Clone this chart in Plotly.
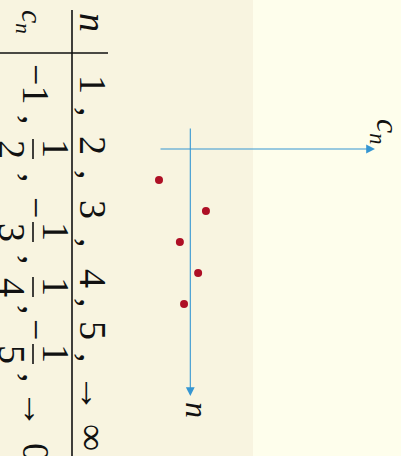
import plotly.graph_objects as go

W, H = 401, 456

# sequence c_n = (-1)^n / n, first five terms
n_values = [1, 2, 3, 4, 5]
c_num = [-1, 1, -1, 1, -1]
c_den = [1, 2, 3, 4, 5]
c_values = [a / b for a, b in zip(c_num, c_den)]
n_limit = "∞"
c_limit = "0"

MINUS = "\u2212"
SERIF = "Liberation Serif"
INK = "#111111"
AXIS_BLUE = "#3596D2"
DOT_RED = "#AE0F25"


def px(x):
    return x / W


def py(y):
    return 1 - y / H


# pixel scale of the chart: c = 0 at x=190.3, n = 0 at y=149
SX, X0 = 31.3, 190.3
SY, Y0 = 31.0, 149.0
x_range = [-X0 / SX, (W - X0) / SX]
y_range = [(H - Y0) / SY, -Y0 / SY]

fig = go.Figure()

fig.add_trace(go.Scatter(
    x=c_values, y=n_values, mode="markers",
    marker=dict(size=8, color=DOT_RED),
    hoverinfo="skip", showlegend=False,
))

shapes = [
    # two-tone slide background
    dict(type="rect", xref="paper", yref="paper", x0=0, x1=px(253), y0=0, y1=1,
         fillcolor="#F8F4E0", line=dict(width=0), layer="below"),
    # table rules
    dict(type="line", xref="paper", yref="paper", x0=px(72), x1=px(72), y0=py(10), y1=py(456),
         line=dict(color=INK, width=1.6)),
    dict(type="line", xref="paper", yref="paper", x0=px(0), x1=px(108), y0=py(53), y1=py(53),
         line=dict(color=INK, width=1.6)),
]

ann = []


def tok(text, xc, yc, size=38, italic=False):
    if italic:
        text = "<i>" + text + "</i>"
    ann.append(dict(x=px(xc), y=py(yc), xref="paper", yref="paper", text=text,
                    textangle=90, showarrow=False, xanchor="center", yanchor="middle",
                    font=dict(family=SERIF, size=size, color=INK)))


# header cells
tok("n", 93, 22, italic=True)
tok("<i>c</i><sub><i>n</i></sub>", 30, 22, size=30)

# row of n
N_X = 93
n_pos = [84, 145, 209, 278, 330]
n_comma = [112, 175, 243, 303, 358]
for v, yc, yk in zip(n_values, n_pos, n_comma):
    tok(str(v), N_X, yc)
    tok(",", N_X, yk)
tok("→", N_X, 393)
tok(n_limit, N_X, 437)

# row of c_n
C_X = 36
c_pos = [84, 149, 232, 287, 354]
c_comma = [120, 178, 260, 310, 378]
for a, b, yc, yk in zip(c_num, c_den, c_pos, c_comma):
    if b == 1:
        tok((MINUS if a < 0 else "") + str(abs(a)), C_X, yc)
    else:
        tok(str(abs(a)), 56, yc)
        tok(str(b), 12, yc)
        shapes.append(dict(type="line", xref="paper", yref="paper",
                           x0=px(33), x1=px(33), y0=py(yc - 10), y1=py(yc + 10),
                           line=dict(color=INK, width=1.6)))
        if a < 0:
            tok(MINUS, C_X, yc - 25)
    tok(",", C_X, yk)
tok("→", C_X, 409)
tok(c_limit, C_X, 452)

# coordinate axes with arrowheads
c_axis = (-1.0, 5.9)
n_axis = (-0.71, 7.97)
ann.append(dict(x=c_axis[1], y=0, ax=c_axis[0], ay=0, xref="x", yref="y", axref="x", ayref="y",
                text="", showarrow=True, arrowhead=2, arrowsize=1.6, arrowwidth=1.1,
                arrowcolor=AXIS_BLUE, standoff=0))
ann.append(dict(x=0, y=n_axis[1], ax=0, ay=n_axis[0], xref="x", yref="y", axref="x", ayref="y",
                text="", showarrow=True, arrowhead=2, arrowsize=1.6, arrowwidth=1.1,
                arrowcolor=AXIS_BLUE, standoff=0))
# axis names
ann.append(dict(x=px(385), y=py(131), xref="paper", yref="paper",
                text="<i>c</i><sub><i>n</i></sub>", textangle=90, showarrow=False,
                xanchor="center", yanchor="middle",
                font=dict(family=SERIF, size=32, color=INK)))
ann.append(dict(x=px(197), y=py(410), xref="paper", yref="paper",
                text="<i>n</i>", textangle=90, showarrow=False,
                xanchor="center", yanchor="middle",
                font=dict(family=SERIF, size=32, color=INK)))

fig.update_layout(
    width=W, height=H,
    margin=dict(l=0, r=0, t=0, b=0),
    paper_bgcolor="#FEFEEC", plot_bgcolor="rgba(0,0,0,0)",
    xaxis=dict(range=x_range, visible=False, fixedrange=True),
    yaxis=dict(range=y_range, visible=False, fixedrange=True),
    shapes=shapes, annotations=ann,
)

fig.write_html("out.html")
